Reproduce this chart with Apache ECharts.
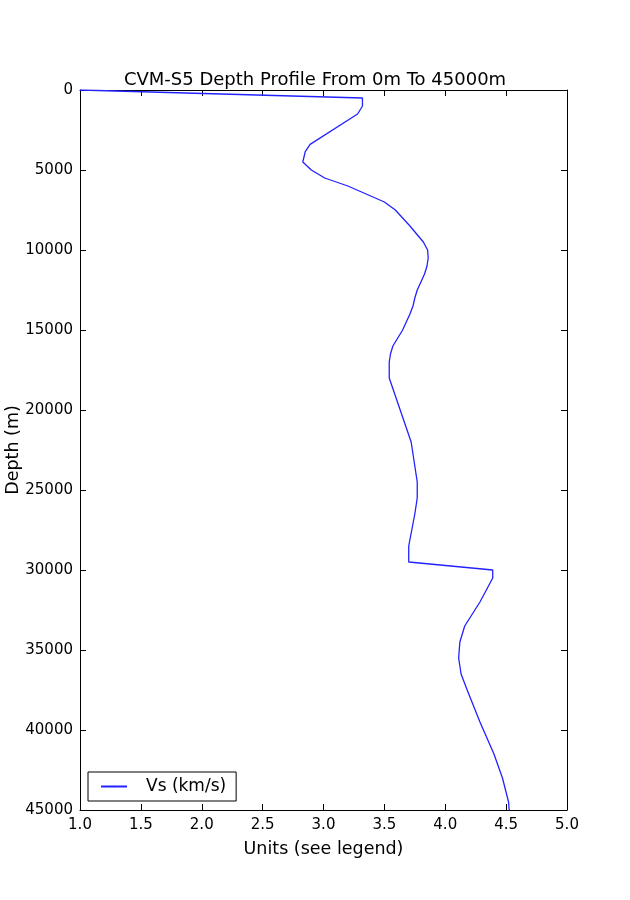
<!DOCTYPE html>
<html>
<head>
<meta charset="utf-8">
<script src="https://cdn.jsdelivr.net/npm/echarts@6/dist/echarts.min.js"></script>
<style>
html,body{margin:0;padding:0;background:#fff;}
#chart{width:630px;height:900px;}
</style>
</head>
<body>
<div id="chart"></div>
<script>
// Data
const depths = [0, 500, 1000, 1500, 3400, 3850, 4500, 5000, 5500, 6000, 7000, 7500, 8500, 9500, 10000, 10500, 11000, 11500, 12000, 12500, 13000, 13500, 14000, 15000, 16000, 16500, 17000, 18000, 22000, 24500, 25500, 26500, 28500, 29500, 30000, 30500, 32000, 33500, 34500, 35500, 36500, 37500, 39500, 41500, 43000, 44500, 45000];
const vs =     [1.0, 3.32, 3.32, 3.28, 2.89, 2.85, 2.83, 2.90, 3.01, 3.20, 3.50, 3.59, 3.71, 3.82, 3.855, 3.86, 3.85, 3.83, 3.80, 3.77, 3.75, 3.735, 3.71, 3.65, 3.57, 3.55, 3.54, 3.54, 3.72, 3.77, 3.77, 3.75, 3.70, 3.70, 4.39, 4.39, 4.285, 4.16, 4.12, 4.11, 4.13, 4.18, 4.285, 4.40, 4.47, 4.52, 4.525];
const xTicks = [1.0, 1.5, 2.0, 2.5, 3.0, 3.5, 4.0, 4.5, 5.0];
const seriesName = 'Vs (km/s)';
const titleText = 'CVM-S5 Depth Profile From 0m To 45000m';
const xLabel = 'Units (see legend)';
const yLabel = 'Depth (m)';

const font = 'DejaVu Sans';
const chart = echarts.init(document.getElementById('chart'), null, {renderer: 'canvas'});
const pts = depths.map((d, i) => [vs[i], d]);

const tickStyle = {show: true, inside: true, length: 6, lineStyle: {color: '#000', width: 1}};
chart.setOption({
  animation: false,
  backgroundColor: '#fff',
  title: {
    text: titleText, left: 'center', top: 66,
    textStyle: {fontFamily: font, fontSize: 18, fontWeight: 'normal', color: '#000'}
  },
  grid: {left: 80, right: 63, top: 90, bottom: 90, show: false, containLabel: false, outerBoundsMode: 'none'},
  legend: {
    data: [seriesName], left: 88, bottom: 99, orient: 'vertical',
    borderColor: '#000', borderWidth: 1, borderRadius: 0,
    padding: [6, 10, 6, 12], itemWidth: 26, itemHeight: 2, itemGap: 10,
    textStyle: {fontFamily: font, fontSize: 17, color: '#000', padding: [0,0,0,14]}
  },
  xAxis: [{
    type: 'value', min: 1, max: 5, interval: 0.5,
    name: xLabel, nameLocation: 'middle', nameGap: 30, nameMoveOverlap: false,
    nameTextStyle: {fontFamily: font, fontSize: 17.5, color: '#000'},
    axisLine: {show: true, onZero: false, lineStyle: {color: '#000', width: 1}},
    axisTick: tickStyle,
    axisLabel: {fontFamily: font, fontSize: 15, color: '#000', margin: 8, formatter: v => v.toFixed(1)},
    splitLine: {show: false}
  }, {
    type: 'value', min: 1, max: 5, interval: 0.5, position: 'top',
    axisLine: {show: true, onZero: false, lineStyle: {color: '#000', width: 1}},
    axisTick: tickStyle, axisLabel: {show: false}, splitLine: {show: false}
  }],
  yAxis: [{
    type: 'value', min: 0, max: 45000, interval: 5000, inverse: true,
    name: yLabel, nameLocation: 'middle', nameGap: 58, nameRotate: 90, nameMoveOverlap: false,
    nameTextStyle: {fontFamily: font, fontSize: 17.5, color: '#000'},
    axisLine: {show: true, onZero: false, lineStyle: {color: '#000', width: 1}},
    axisTick: tickStyle,
    axisLabel: {fontFamily: font, fontSize: 15, color: '#000', margin: 7, formatter: v => String(v)},
    splitLine: {show: false}
  }, {
    type: 'value', min: 0, max: 45000, interval: 5000, inverse: true, position: 'right',
    axisLine: {show: true, onZero: false, lineStyle: {color: '#000', width: 1}},
    axisTick: tickStyle, axisLabel: {show: false}, splitLine: {show: false}
  }],
  series: [{
    name: seriesName, type: 'line', data: pts, xAxisIndex: 0, yAxisIndex: 0,
    symbol: 'none', smooth: false,
    lineStyle: {color: '#2222ff', width: 1.3},
    itemStyle: {color: '#2222ff'}
  }]
});
</script>
</body>
</html>
